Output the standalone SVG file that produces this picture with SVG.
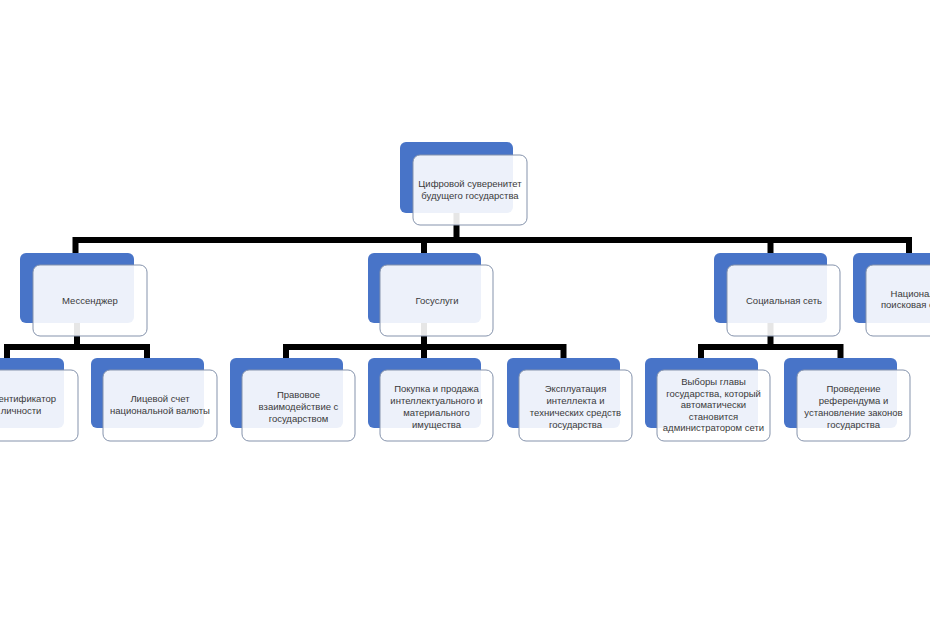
<svg xmlns="http://www.w3.org/2000/svg" width="930" height="620" viewBox="0 0 930 620">
<style>
.b{fill:#4874C8;}
.w{fill:#ffffff;fill-opacity:0.9;stroke:#8593AC;stroke-width:1;}
.c{fill:none;stroke:#000;stroke-width:6;stroke-linejoin:miter;}
text{font-family:"Liberation Sans","Open Sans",sans-serif;font-size:9.5px;fill:#3a3a3a;text-anchor:middle;}
</style>
<rect width="930" height="620" fill="#ffffff"/>
<g id="blues">
<rect class="b" x="400" y="142" width="113" height="71" rx="6"/>
<rect class="b" x="20" y="253" width="114" height="70" rx="6"/>
<rect class="b" x="368" y="253" width="113" height="70" rx="6"/>
<rect class="b" x="714" y="253" width="113" height="70" rx="6"/>
<rect class="b" x="853" y="253" width="113" height="70" rx="6"/>
<rect class="b" x="-49" y="358" width="113" height="70" rx="6"/>
<rect class="b" x="91" y="358" width="113" height="70" rx="6"/>
<rect class="b" x="230" y="358" width="113" height="70" rx="6"/>
<rect class="b" x="368" y="358" width="113" height="70" rx="6"/>
<rect class="b" x="507" y="358" width="113" height="70" rx="6"/>
<rect class="b" x="645" y="358" width="113" height="70" rx="6"/>
<rect class="b" x="784" y="358" width="113" height="70" rx="6"/>
</g>
<g id="connectors">
<path class="c" d="M456.5,213 V240 M75.5,253 V240 H909 V253 M424,240 V253 M770.5,240 V253"/>
<path class="c" d="M77,323 V347 M7,358 V347 H147 V358"/>
<path class="c" d="M424,323 V358 M286,358 V347 H563.5 V358"/>
<path class="c" d="M770.5,323 V347 M701,358 V347 H840.5 V358"/>
</g>
<g id="n-root">
<rect class="w" x="413" y="155" width="114" height="70" rx="7"/>
<text x="470" y="187">Цифровой суверенитет</text>
<text x="470" y="199">будущего государства</text>
</g>
<g id="n-messenger">
<rect class="w" x="33" y="265" width="114" height="71" rx="7"/>
<text x="90" y="304">Мессенджер</text>
</g>
<g id="n-gosuslugi">
<rect class="w" x="380" y="265" width="113" height="71" rx="7"/>
<text x="437" y="304">Госуслуги</text>
</g>
<g id="n-social">
<rect class="w" x="727" y="265" width="113" height="71" rx="7"/>
<text x="784" y="304">Социальная сеть</text>
</g>
<g id="n-search">
<rect class="w" x="866" y="265" width="114" height="71" rx="7"/>
<text x="923" y="297">Национальная</text>
<text x="923" y="308">поисковая система</text>
</g>
<g id="n-id">
<rect class="w" x="-36" y="370" width="114" height="71" rx="7"/>
<text x="21" y="402">Идентификатор</text>
<text x="21" y="414">личности</text>
</g>
<g id="n-account">
<rect class="w" x="103" y="370" width="114" height="71" rx="7"/>
<text x="160" y="402">Лицевой счет</text>
<text x="160" y="414">национальной валюты</text>
</g>
<g id="n-legal">
<rect class="w" x="242" y="370" width="113" height="71" rx="7"/>
<text x="298.5" y="398">Правовое</text>
<text x="298.5" y="410">взаимодействие с</text>
<text x="298.5" y="422">государством</text>
</g>
<g id="n-trade">
<rect class="w" x="380" y="370" width="113" height="71" rx="7"/>
<text x="436.5" y="392">Покупка и продажа</text>
<text x="436.5" y="404">интеллектуального и</text>
<text x="436.5" y="416">материального</text>
<text x="436.5" y="428">имущества</text>
</g>
<g id="n-exploit">
<rect class="w" x="519" y="370" width="113" height="71" rx="7"/>
<text x="575.5" y="392">Эксплуатация</text>
<text x="575.5" y="404">интеллекта и</text>
<text x="575.5" y="416">технических средств</text>
<text x="575.5" y="428">государства</text>
</g>
<g id="n-elections">
<rect class="w" x="657" y="370" width="113" height="71" rx="7"/>
<text x="713.5" y="385">Выборы главы</text>
<text x="713.5" y="396.5">государства, который</text>
<text x="713.5" y="408">автоматически</text>
<text x="713.5" y="419.5">становится</text>
<text x="713.5" y="431">администратором сети</text>
</g>
<g id="n-referendum">
<rect class="w" x="797" y="370" width="113" height="71" rx="7"/>
<text x="853.5" y="392">Проведение</text>
<text x="853.5" y="404">референдума и</text>
<text x="853.5" y="416">установление законов</text>
<text x="853.5" y="428">государства</text>
</g>
</svg>
